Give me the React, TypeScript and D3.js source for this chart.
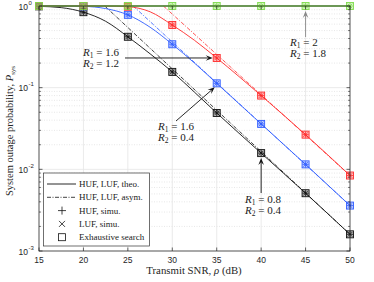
import React from "react";
import * as d3 from "d3";

const snrTheo = [15, 17.5, 20, 22.5, 25, 27.5, 30, 32.5, 35, 40, 45, 50];
const blackTheo = [0.99, 0.955, 0.84, 0.65, 0.42, 0.26, 0.156, 0.088, 0.049, 0.0158, 0.0051, 0.0016];
const blueTheo = [1, 0.999, 0.99, 0.93, 0.78, 0.55, 0.34, 0.2, 0.113, 0.036, 0.0115, 0.0036];
const redTheo = [1, 1, 1, 0.999, 0.98, 0.85, 0.585, 0.38, 0.231, 0.08, 0.0266, 0.0084];
const greenTheo = [1, 1, 1, 1, 1, 1, 1, 1, 1, 1, 1, 1];

const snrSim = [15, 20, 25, 30, 35, 40, 45, 50];
const blackSim = [0.99, 0.84, 0.42, 0.156, 0.049, 0.0158, 0.0051, 0.0016];
const blueSim = [1, 0.99, 0.78, 0.34, 0.113, 0.036, 0.0115, 0.0036];
const redSim = [1, 1, 0.98, 0.585, 0.231, 0.08, 0.0266, 0.0084];
const greenSim = [1, 1, 1, 1, 1, 1, 1, 1];

const blackAsymX = [22.4, 50];
const blackAsymY = [1, 0.0016];
const blueAsymX = [25.6, 50];
const blueAsymY = [1, 0.0036];
const redAsymX = [29.0, 50];
const redAsymY = [1, 0.0084];

const xTicks = [15, 20, 25, 30, 35, 40, 45, 50];
const yDecades = [-3, -2, -1, 0];

const legendLabels = ["HUF, LUF, theo.", "HUF, LUF, asym.", "HUF, simu.", "LUF, simu.", "Exhaustive search"];

const COLORS = { black: "#111111", blue: "#2f5cff", red: "#ff2a2a", green: "#7ddc4a" };

const series = [
  { c: COLORS.black, theo: blackTheo, sim: blackSim, ax: blackAsymX, ay: blackAsymY },
  { c: COLORS.blue, theo: blueTheo, sim: blueSim, ax: blueAsymX, ay: blueAsymY },
  { c: COLORS.red, theo: redTheo, sim: redSim, ax: redAsymX, ay: redAsymY },
  { c: COLORS.green, theo: greenTheo, sim: greenSim, ax: null as number[] | null, ay: null as number[] | null },
];

const L = 39, R = 350, T = 6, B = 251;
const x = d3.scaleLinear().domain([15, 50]).range([L, R]);
const y = d3.scaleLog().domain([1e-3, 1]).range([B, T]);

const serif = "Liberation Serif, DejaVu Serif, serif";
const sans = "Liberation Sans, Arial, sans-serif";
const axisColor = "#262626";

function Marker({ cx, cy, c }: { cx: number; cy: number; c: string }) {
  const s = 3.5;
  const p = 3;
  return (
    <g>
      <rect x={cx - s} y={cy - s} width={2 * s} height={2 * s} fill={c} fillOpacity={0.3} stroke={c} strokeWidth={0.9} />
      <path d={`M${cx - p},${cy}H${cx + p}M${cx},${cy - p}V${cy + p}`} stroke={c} strokeWidth={0.8} />
      <path d={`M${cx - 2.3},${cy - 2.3}L${cx + 2.3},${cy + 2.3}M${cx - 2.3},${cy + 2.3}L${cx + 2.3},${cy - 2.3}`} stroke={c} strokeWidth={0.8} />
    </g>
  );
}

function RLabel({ x0, y0, r1, r2 }: { x0: number; y0: number; r1: string; r2: string }) {
  const fs = 11;
  const row = (sub: string, val: string, yy: number) => (
    <text x={x0} y={yy} fontFamily={serif} fontSize={fs} fill="#222">
      <tspan fontStyle="italic">R</tspan>
      <tspan fontSize={7.5} dy={2}>{sub}</tspan>
      <tspan dy={-2}>{" = " + val}</tspan>
    </text>
  );
  return (
    <g>
      {row("1", r1, y0)}
      {row("2", r2, y0 + 11)}
    </g>
  );
}

function Arrow({ x1, y1, x2, y2, c }: { x1: number; y1: number; x2: number; y2: number; c: string }) {
  const ang = Math.atan2(y2 - y1, x2 - x1);
  const len = 7, w = 2.8;
  const bx = x2 - len * Math.cos(ang), by = y2 - len * Math.sin(ang);
  const nx = -Math.sin(ang), ny = Math.cos(ang);
  const back = 0.6 * len;
  const mx = x2 - back * Math.cos(ang), my = y2 - back * Math.sin(ang);
  return (
    <g>
      <line x1={x1} y1={y1} x2={mx} y2={my} stroke={c} strokeWidth={0.9} />
      <path d={`M${x2},${y2}L${bx + w * nx},${by + w * ny}L${mx},${my}L${bx - w * nx},${by - w * ny}Z`} fill={c} />
    </g>
  );
}

export default function App() {
  const line = d3
    .line<[number, number]>()
    .x((d) => x(d[0]))
    .y((d) => y(d[1]))
    .curve(d3.curveMonotoneX);
  const straight = d3
    .line<[number, number]>()
    .x((d) => x(d[0]))
    .y((d) => y(d[1]));

  const minorY: number[] = [];
  yDecades.slice(0, 3).forEach((e) => {
    for (let k = 2; k <= 9; k++) minorY.push(k * Math.pow(10, e));
  });

  return (
    <svg width={374} height={282} style={{ position: "fixed", left: 0, top: 0, background: "#fff" }}>
      <defs>
        <clipPath id="plotclip">
          <rect x={L} y={T - 5} width={R - L + 5} height={B - T + 5} />
        </clipPath>
      </defs>
      <rect x={0} y={0} width={374} height={282} fill="#fff" />
      {/* grid */}
      {minorY.map((v, i) => (
        <line key={"mg" + i} x1={L} x2={R} y1={y(v)} y2={y(v)} stroke="#d6d6d6" strokeWidth={0.6} strokeDasharray="1,1.5" />
      ))}
      {xTicks.slice(1, -1).map((v) => (
        <line key={"gx" + v} x1={x(v)} x2={x(v)} y1={T} y2={B} stroke="#e4e4e4" strokeWidth={0.8} />
      ))}
      {yDecades.slice(1, 3).map((e) => (
        <line key={"gy" + e} x1={L} x2={R} y1={y(Math.pow(10, e))} y2={y(Math.pow(10, e))} stroke="#e4e4e4" strokeWidth={0.8} />
      ))}

      {/* curves */}
      <g clipPath="url(#plotclip)">
        {series.map((s, i) =>
          s.ax ? (
            <path
              key={"a" + i}
              d={straight(s.ax.map((v, j) => [v, s.ay![j]] as [number, number])) || ""}
              fill="none"
              stroke={s.c}
              strokeWidth={0.8}
              strokeDasharray="4,1.5,1,1.5"
            />
          ) : null
        )}
        {series.map((s, i) => (
          <path
            key={"t" + i}
            d={line(snrTheo.map((v, j) => [v, s.theo[j]] as [number, number])) || ""}
            fill="none"
            stroke={s.c}
            strokeWidth={i === 3 ? 1.3 : 0.9}
          />
        ))}
      </g>
      {series.map((s, i) =>
        snrSim.map((v, j) => <Marker key={"m" + i + "-" + j} cx={x(v)} cy={y(s.sim[j])} c={s.c} />)
      )}

      {/* axes box */}
      <rect x={L} y={T} width={R - L} height={B - T} fill="none" stroke={axisColor} strokeWidth={0.8} />
      {xTicks.map((v) => (
        <g key={"xt" + v}>
          <line x1={x(v)} x2={x(v)} y1={B} y2={B - 3.5} stroke={axisColor} strokeWidth={0.7} />
          <line x1={x(v)} x2={x(v)} y1={T} y2={T + 3.5} stroke={axisColor} strokeWidth={0.7} />
          <text x={x(v)} y={B + 11.5} textAnchor="middle" fontFamily={sans} fontSize={8.5} fill={axisColor}>
            {v}
          </text>
        </g>
      ))}
      {minorY.map((v, i) => (
        <g key={"my" + i}>
          <line x1={L} x2={L + 2} y1={y(v)} y2={y(v)} stroke={axisColor} strokeWidth={0.6} />
          <line x1={R} x2={R - 2} y1={y(v)} y2={y(v)} stroke={axisColor} strokeWidth={0.6} />
        </g>
      ))}
      {yDecades.map((e) => (
        <g key={"yt" + e}>
          <line x1={L} x2={L + 3.5} y1={y(Math.pow(10, e))} y2={y(Math.pow(10, e))} stroke={axisColor} strokeWidth={0.7} />
          <line x1={R} x2={R - 3.5} y1={y(Math.pow(10, e))} y2={y(Math.pow(10, e))} stroke={axisColor} strokeWidth={0.7} />
          <text x={28} y={y(Math.pow(10, e)) + 3.5} textAnchor="end" fontFamily={sans} fontSize={8.5} fill={axisColor}>
            10
          </text>
          <text x={28.5} y={y(Math.pow(10, e)) - 1.5} textAnchor="start" fontFamily={sans} fontSize={6} fill={axisColor}>
            {e}
          </text>
        </g>
      ))}

      {/* axis labels */}
      <text x={194} y={274} textAnchor="middle" fontFamily={serif} fontSize={10.8} fill={axisColor}>
        Transmit SNR, <tspan fontStyle="italic">ρ</tspan> (dB)
      </text>
      <text
        transform={`translate(13,131) rotate(-90)`}
        textAnchor="middle"
        fontFamily={serif}
        fontSize={10.5}
        fill={axisColor}
      >
        System outage probability, <tspan fontStyle="italic">P</tspan>
        <tspan fontSize={7} dy={2}>sys</tspan>
      </text>

      {/* annotations */}
      <RLabel x0={83} y0={56} r1="1.6" r2="1.2" />
      <Arrow x1={125} y1={y(0.231)} x2={x(35) - 4} y2={y(0.231)} c="#111" />
      <RLabel x0={158} y0={130} r1="1.6" r2="0.4" />
      <Arrow x1={176} y1={121} x2={x(35) - 2} y2={y(0.113) + 4} c="#111" />
      <RLabel x0={290} y0={46} r1="2" r2="1.8" />
      <Arrow x1={x(45)} y1={37} x2={x(45)} y2={y(1) + 5} c="#888" />
      <RLabel x0={245} y0={203} r1="0.8" r2="0.4" />
      <Arrow x1={x(40)} y1={193} x2={x(40)} y2={y(0.0158) + 5} c="#111" />

      {/* legend */}
      <g>
        <rect x={43.5} y={173} width={106} height={73} fill="#fff" stroke="#333" strokeWidth={0.7} />
        {legendLabels.map((lab, i) => {
          const yy = 184 + i * 13.3;
          return (
            <g key={"lg" + i}>
              {i === 0 && <line x1={47} x2={76} y1={yy} y2={yy} stroke="#111" strokeWidth={0.9} />}
              {i === 1 && <line x1={47} x2={76} y1={yy} y2={yy} stroke="#111" strokeWidth={0.8} strokeDasharray="4,1.5,1,1.5" />}
              {i === 2 && <path d={`M${58},${yy}H${66}M${62},${yy - 4}V${yy + 4}`} stroke="#111" strokeWidth={0.8} />}
              {i === 3 && <path d={`M${59},${yy - 3}L${65},${yy + 3}M${59},${yy + 3}L${65},${yy - 3}`} stroke="#111" strokeWidth={0.8} />}
              {i === 4 && <rect x={58.5} y={yy - 3.5} width={7} height={7} fill="none" stroke="#111" strokeWidth={0.8} />}
              <text x={79} y={yy + 3} fontFamily={serif} fontSize={9} fill="#222">
                {lab}
              </text>
            </g>
          );
        })}
      </g>
    </svg>
  );
}
